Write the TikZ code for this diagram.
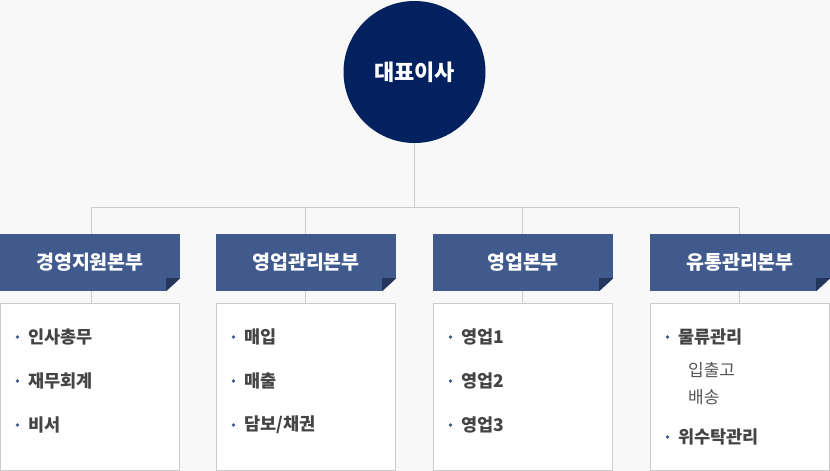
\documentclass[tikz,border=0pt]{standalone}
\usepackage{fontspec}
\setmainfont{Noto Sans CJK KR}
\usetikzlibrary{calc}
\definecolor{bgc}{RGB}{248,248,248}
\definecolor{navy}{RGB}{2,33,94}
\definecolor{headc}{RGB}{64,90,142}
\definecolor{foldc}{RGB}{36,53,94}
\definecolor{linec}{RGB}{204,204,204}
\definecolor{textc}{RGB}{68,68,68}
\definecolor{subc}{RGB}{85,85,85}
\pgfdeclarelayer{bgl}
\pgfdeclarelayer{connl}
\pgfsetlayers{bgl,connl,main}
\tikzset{
  ceo/.style={circle, fill=navy, minimum size=142pt, inner sep=0pt, text=white,
    font=\bfseries\fontsize{22}{26}\selectfont},
  head/.style={rectangle, fill=headc, minimum width=180pt, minimum height=57pt,
    inner sep=0pt, text=white, font=\bfseries\fontsize{19.5}{23}\selectfont},
  listbox/.style={rectangle, draw=linec, line width=1pt, fill=white,
    minimum width=179pt, minimum height=167pt, inner sep=0pt},
  conn/.style={draw=linec, line width=1pt},
  item/.style={anchor=west, inner sep=0pt, text=textc,
    font=\bfseries\fontsize{17.5}{20}\selectfont},
  subitem/.style={anchor=west, inner sep=0pt, text=subc,
    font=\fontsize{17}{20}\selectfont},
  dot/.style={fill=headc},
}
\newcommand\foldcorner[1]{%
  \fill[bgc] (#1.south east) -- ([xshift=-14pt]#1.south east) -- ([yshift=13pt]#1.south east) -- cycle;
  \fill[foldc] ([xshift=-14pt]#1.south east) -- ([xshift=-14pt,yshift=13pt]#1.south east) -- ([yshift=13pt]#1.south east) -- cycle;}
\newcommand\bul[1]{\fill[dot] ([xshift=-10.5pt]#1.west) circle (1.8pt);}
\begin{document}
\begin{tikzpicture}[x=1pt,y=-1pt]
\begin{pgfonlayer}{bgl}
\fill[bgc] (0,0) rectangle (830,471);
\end{pgfonlayer}
\useasboundingbox (0,0) rectangle (830,471);
% top node
\node[ceo] (ceo) at (414.5,72) {대표이사};
\coordinate (j) at (414.5,207.5);
% headers
\node[head] (h1) at (90,262.5) {경영지원본부};
\node[head] (h2) at (306,262.5) {영업관리본부};
\node[head] (h3) at (523,262.5) {영업본부};
\node[head] (h4) at (740,262.5) {유통관리본부};
\foldcorner{h1}\foldcorner{h2}\foldcorner{h3}\foldcorner{h4}
% list boxes
\node[listbox] (b1) at (90,386.5) {};
\node[listbox] (b2) at (306,386.5) {};
\node[listbox] (b3) at (523,386.5) {};
\node[listbox] (b4) at (740,386.5) {};
% connectors
\begin{pgfonlayer}{connl}
\draw[conn] (ceo.south) -- (j);
\draw[conn] ([xshift=1pt]h1.north |- j) -- ([xshift=-1pt]h4.north |- j);
\draw[conn] ([xshift=1pt]h1.north |- j) -- ([xshift=1pt]b1.north);
\draw[conn] ([xshift=-1pt]h2.north |- j) -- ([xshift=-1pt]b2.north);
\draw[conn] ([xshift=-1pt]h3.north |- j) -- ([xshift=-1pt]b3.north);
\draw[conn] ([xshift=-1pt]h4.north |- j) -- ([xshift=-1pt]b4.north);
\end{pgfonlayer}
% items box 1
\node[item] (i11) at (28,337) {인사총무}; \bul{i11}
\node[item] (i12) at (28,381) {재무회계}; \bul{i12}
\node[item] (i13) at (28,425) {비서}; \bul{i13}
% items box 2
\node[item] (i21) at (244,337) {매입}; \bul{i21}
\node[item] (i22) at (244,381) {매출}; \bul{i22}
\node[item] (i23) at (244,425) {담보/채권}; \bul{i23}
% items box 3
\node[item] (i31) at (461,337) {영업1}; \bul{i31}
\node[item] (i32) at (461,381) {영업2}; \bul{i32}
\node[item] (i33) at (461,425) {영업3}; \bul{i33}
% items box 4
\node[item] (i41) at (678,337) {물류관리}; \bul{i41}
\node[subitem] (s41) at (688,370) {입출고};
\node[subitem] (s42) at (688,397) {배송};
\node[item] (i42) at (678,437) {위수탁관리}; \bul{i42}
\end{tikzpicture}
\end{document}
